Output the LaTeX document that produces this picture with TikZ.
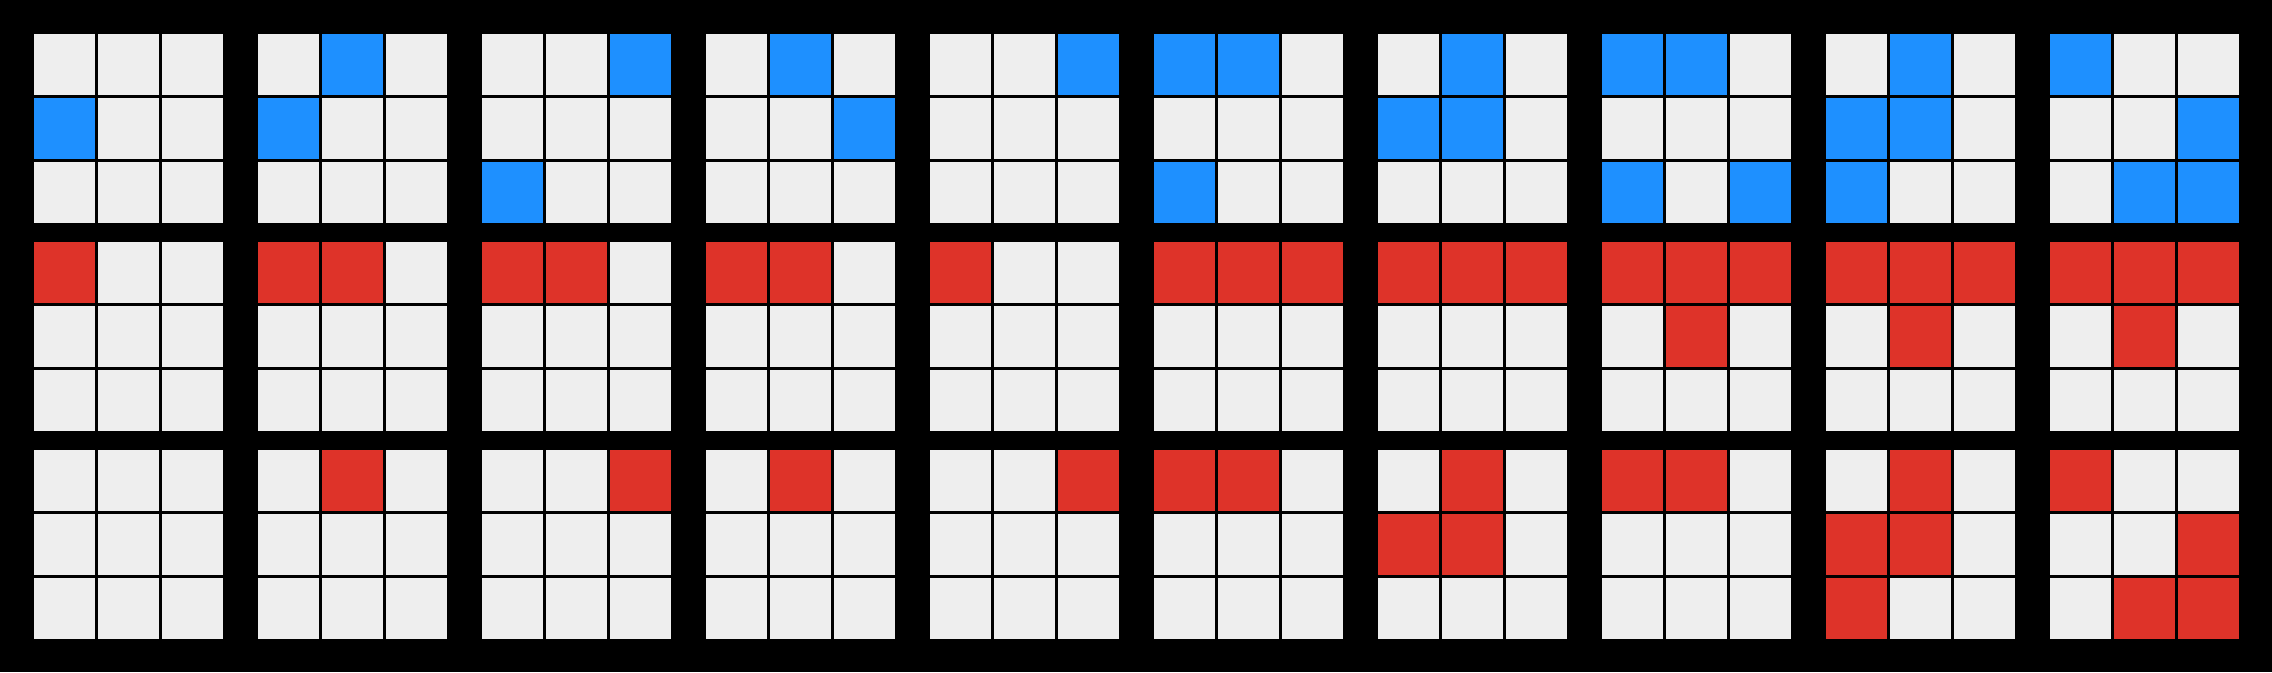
\documentclass[tikz,border=0pt]{standalone}
\definecolor{bgblack}{RGB}{0,0,0}
\definecolor{cellgray}{RGB}{238,238,238}
\definecolor{cellblue}{RGB}{30,144,255}
\definecolor{cellred}{RGB}{222,51,41}
\begin{document}
\begin{tikzpicture}[x=0.01cm,y=-0.01cm,
  cellbox/.style={fill=#1}]
\useasboundingbox (0,0) rectangle (2272,672);
\fill[bgblack] (0,0) rectangle (2272,672);
% all cells gray
\foreach \c in {0,...,9}{
  \foreach \r in {0,1,2}{
    \foreach \i in {0,1,2}{
      \foreach \j in {0,1,2}{
        \fill[cellgray] ({34+224*\c+64*\j},{34+208*\r+64*\i}) rectangle ++(61,61);
      }
    }
  }
}
% coloured cells: grid column / grid row / cell row / cell column / colour
\foreach \c/\r/\i/\j/\k in {
  0/0/1/0/cellblue,
  1/0/0/1/cellblue, 1/0/1/0/cellblue,
  2/0/0/2/cellblue, 2/0/2/0/cellblue,
  3/0/0/1/cellblue, 3/0/1/2/cellblue,
  4/0/0/2/cellblue,
  5/0/0/0/cellblue, 5/0/0/1/cellblue, 5/0/2/0/cellblue,
  6/0/0/1/cellblue, 6/0/1/0/cellblue, 6/0/1/1/cellblue,
  7/0/0/0/cellblue, 7/0/0/1/cellblue, 7/0/2/0/cellblue, 7/0/2/2/cellblue,
  8/0/0/1/cellblue, 8/0/1/0/cellblue, 8/0/1/1/cellblue, 8/0/2/0/cellblue,
  9/0/0/0/cellblue, 9/0/1/2/cellblue, 9/0/2/1/cellblue, 9/0/2/2/cellblue,
  0/1/0/0/cellred,
  1/1/0/0/cellred, 1/1/0/1/cellred,
  2/1/0/0/cellred, 2/1/0/1/cellred,
  3/1/0/0/cellred, 3/1/0/1/cellred,
  4/1/0/0/cellred,
  5/1/0/0/cellred, 5/1/0/1/cellred, 5/1/0/2/cellred,
  6/1/0/0/cellred, 6/1/0/1/cellred, 6/1/0/2/cellred,
  7/1/0/0/cellred, 7/1/0/1/cellred, 7/1/0/2/cellred, 7/1/1/1/cellred,
  8/1/0/0/cellred, 8/1/0/1/cellred, 8/1/0/2/cellred, 8/1/1/1/cellred,
  9/1/0/0/cellred, 9/1/0/1/cellred, 9/1/0/2/cellred, 9/1/1/1/cellred,
  1/2/0/1/cellred,
  2/2/0/2/cellred,
  3/2/0/1/cellred,
  4/2/0/2/cellred,
  5/2/0/0/cellred, 5/2/0/1/cellred,
  6/2/0/1/cellred, 6/2/1/0/cellred, 6/2/1/1/cellred,
  7/2/0/0/cellred, 7/2/0/1/cellred,
  8/2/0/1/cellred, 8/2/1/0/cellred, 8/2/1/1/cellred, 8/2/2/0/cellred,
  9/2/0/0/cellred, 9/2/1/2/cellred, 9/2/2/1/cellred, 9/2/2/2/cellred}{
  \fill[cellbox=\k] ({34+224*\c+64*\j},{34+208*\r+64*\i}) rectangle ++(61,61);
}
\end{tikzpicture}
\end{document}
